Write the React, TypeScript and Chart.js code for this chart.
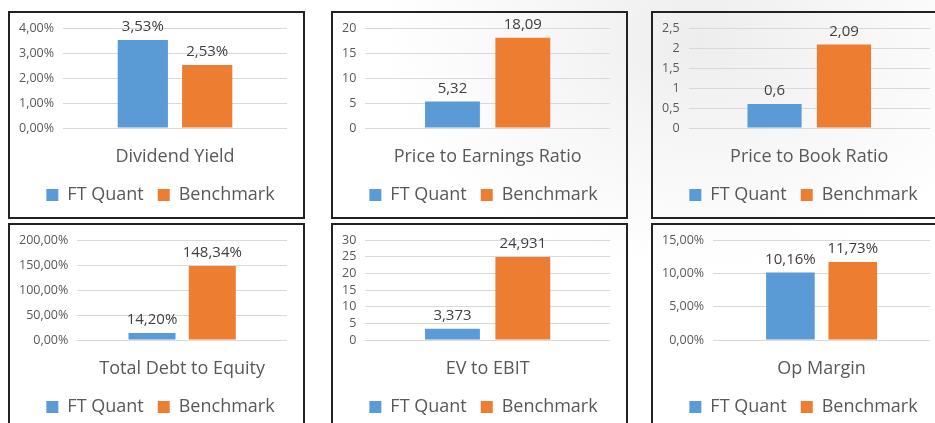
import React, { useEffect, useRef } from 'react';
import { Chart, registerables } from 'chart.js';

Chart.register(...registerables);

// ---- data ----
const seriesNames = ['FT Quant', 'Benchmark'];
const seriesColors = ['#5B9BD5', '#ED7D31'];

const titles = [
  'Dividend Yield',
  'Price to Earnings Ratio',
  'Price to Book Ratio',
  'Total Debt to Equity',
  'EV to EBIT',
  'Op Margin',
];
const ftQuant = [3.53, 5.32, 0.6, 14.2, 3.373, 10.16];
const benchmark = [2.53, 18.09, 2.09, 148.34, 24.931, 11.73];
const axisMax = [4, 20, 2.5, 200, 30, 15];
const axisStep = [1, 5, 0.5, 50, 5, 5];
const isPercent = [true, false, false, true, false, true];

const FONT = "'Open Sans', 'Noto Sans', sans-serif";

const fmtTick = (v: number, pct: boolean) => {
  const r = Math.round(v * 1000) / 1000;
  return pct ? r.toFixed(2).replace('.', ',') + '%' : String(r).replace('.', ',');
};
const fmtLabel = (v: number, pct: boolean) =>
  pct ? v.toFixed(2).replace('.', ',') + '%' : String(v).replace('.', ',');

const dataLabelPlugin = {
  id: 'dataLabels',
  afterDatasetsDraw(chart: any) {
    const ctx = chart.ctx;
    const pct = chart.options.plugins.dataLabels.pct;
    ctx.save();
    ctx.font = `15px ${FONT}`;
    ctx.fillStyle = '#404040';
    ctx.textAlign = 'center';
    ctx.textBaseline = 'middle';
    chart.data.datasets.forEach((ds: any, di: number) => {
      const meta = chart.getDatasetMeta(di);
      meta.data.forEach((el: any, i: number) => {
        ctx.fillText(fmtLabel(ds.data[i], pct), el.x, el.y - 13);
      });
    });
    ctx.restore();
  },
};

// nudges the legend block to the right, as in the original
const LEGEND_SHIFT = 12;
const legendShiftPlugin = {
  id: 'legendShift',
  afterLayout(chart: any) {
    const lg = chart.legend;
    if (lg) {
      lg.left += LEGEND_SHIFT;
      lg.right += LEGEND_SHIFT;
    }
  },
};

function Panel({ idx, left, top }: { idx: number; left: number; top: number }) {
  const ref = useRef<HTMLCanvasElement>(null);
  useEffect(() => {
    if (!ref.current) return;
    const pct = isPercent[idx];
    const chart = new Chart(ref.current, {
      type: 'bar',
      data: {
        labels: [titles[idx]],
        datasets: [
          { label: seriesNames[0], data: [ftQuant[idx]], backgroundColor: seriesColors[0] },
          { label: seriesNames[1], data: [benchmark[idx]], backgroundColor: seriesColors[1] },
        ],
      },
      options: {
        responsive: false,
        animation: false,
        categoryPercentage: 0.575,
        barPercentage: 0.78,
        layout: { padding: { top: 0, right: 16, left: 0, bottom: 3 } },
        plugins: {
          legend: {
            position: 'bottom',
            labels: {
              boxWidth: 12,
              boxHeight: 12,
              padding: 14,
              color: '#595959',
              font: { family: FONT, size: 18 },
            },
          },
          tooltip: { enabled: false },
          dataLabels: { pct },
        } as any,
        scales: {
          x: {
            grid: { display: false, drawTicks: true, tickLength: 14 },
            border: { display: false },
            ticks: { color: '#595959', font: { family: FONT, size: 18, lineHeight: 1.2 }, padding: 4.2 },
          },
          y: {
            min: 0,
            max: axisMax[idx],
            grid: { color: '#d9d9d9', drawTicks: false },
            border: { display: false },
            ticks: {
              stepSize: axisStep[idx],
              autoSkip: false,
              color: '#595959',
              font: { family: FONT, size: 12.5, lineHeight: 1.0 },
              padding: 9,
              callback: (v: any) => fmtTick(Number(v), pct),
            },
          },
        },
      },
      plugins: [dataLabelPlugin, legendShiftPlugin],
    });
    return () => chart.destroy();
  }, [idx]);
  return (
    <div
      style={{
        position: 'absolute',
        left,
        top,
        width: 297,
        height: 208,
        boxSizing: 'border-box',
        border: '2px solid #222',
      }}
    >
      <canvas ref={ref} width={293} height={204} style={{ display: 'block' }} />
    </div>
  );
}

const lefts = [8, 331, 651];
const tops = [11, 223];

export default function App() {
  return (
    <div
      style={{
        position: 'absolute',
        left: 0,
        top: 0,
        width: 935,
        height: 423,
        overflow: 'hidden',
        background: 'radial-gradient(ellipse 320px 230px at 700px 40px, #ededed 0%, #f6f6f6 45%, #ffffff 100%)',
      }}
    >
      {titles.map((t, i) => (
        <Panel key={t} idx={i} left={lefts[i % 3]} top={tops[Math.floor(i / 3)]} />
      ))}
    </div>
  );
}
